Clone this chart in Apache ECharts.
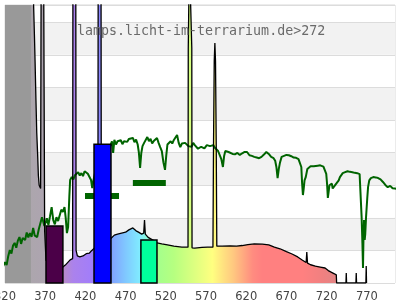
<!DOCTYPE html>
<html>
<head>
<meta charset="utf-8">
<script src="https://cdn.jsdelivr.net/npm/echarts@6/dist/echarts.min.js"></script>
<style>html,body{margin:0;padding:0;background:#fff}#c{width:400px;height:300px}</style>
</head>
<body>
<div id="c"></div>
<script>
// ---- data ----
const titleText = 'lamps.licht-im-terrarium.de>272';
const xTicks = [320, 370, 420, 470, 520, 570, 620, 670, 720, 770];
const uvBand = [320, 352.3];

// lamp spectrum (wavelength nm, relative intensity); values above the top are clipped peaks
const lampSpectrum = [
  [352.3,100],[355,100],[355.6,85],[356.6,76],[357.4,68],[358.5,56],[359.5,46],[360.5,40],[361.5,33],[362.5,30],[364.3,29],
  [365,100],[368,100],[368.6,100],[369.3,16],[371,7],[380,5],[388,4.8],[392,4.9],[395,5.5],[397,6.1],[401,7.1],
  [404.1,7.5],[404.5,100],[408,100],[408.4,10],[410,8.3],[413,8.0],[417,8.3],[421,9.0],[425,9.2],[428,10.0],[431,10.7],
  [435.5,11.5],[435.9,100],[439.4,100],[439.8,12.5],[445,13],[451,13.5],[453,13.8],[456,14.7],[460,15.0],[465,15.3],
  [470,15.6],[474,16.3],[479,16.9],[483,16.0],[486,15.6],[490,15.0],[492.5,15.3],[493.5,19.3],[494.5,15],[498,14],
  [505,13],[509,12.3],[515,12.0],[522,11.7],[530,11.3],[540,11.0],
  [547.6,11.0],[547.9,72],[549.3,100],[550.9,100],[552.3,72],[552.6,10.8],[556,10.7],[565,10.9],[572,11.0],
  [578.6,11.0],[579.3,42],[580.2,68],[581,73.6],[581.8,68],[582.7,42],[583.4,11.3],[590,11.3],[600,11.4],[608,11.3],
  [615,11.5],[622,11.8],[630,12.0],[640,11.9],[648,11.7],[655,11.0],[662,10.5],[670,9.6],[677,8.9],[684,8.0],
  [690,7.0],[694.5,6.3],[695.3,9.5],[696.2,6.1],[700,5.6],[706,5.2],[712,4.9],[718,4.6],[722,3.8],[725,3.4],
  [729,2.9],[732,2.5],[732.4,0],[744,0],[744.4,3.1],[744.8,0],[756.4,0],[756.8,3.1],[757.2,0],[768.8,0],[769.2,5.2],[769.6,0]
];

// reference (daylight) spectrum
const sunSpectrum = [
  [314,3.1],[317,4.8],[320,6.4],[322,5.5],[324,8.2],[326,10.1],[328,9.0],[330,11.5],[332,12.3],[334,10.8],[336,13.0],
  [338,14.1],[340,12.0],[342,13.8],[345,13.2],[347,15.5],[349,14.0],[351,15.3],[353,14.2],[355,16.9],[357,14.5],
  [360,14.1],[362,16.5],[364,16.3],[366,20.2],[367,19.3],[369,17.5],[371,19.0],[372,19.9],[374,17.8],[376,20.5],
  [378,23.3],[380,19.3],[382,18.0],[384,20.2],[386,19.0],[388,18.5],[390,22.5],[391,23.0],[392,21.8],[394,23.3],
  [395.5,20.0],[397,15.3],[398.5,17.2],[400,26.5],[401,31.6],[403,32.5],[405,31.8],[407,33.1],[409,32.6],[411,34.0],
  [413,33.0],[415,33.7],[417,32.8],[419,34.3],[421,34.7],[423,33.5],[425,33.1],[427,31.6],[428.5,29.1],[430,31.5],
  [433,35],[437,38],[441,40],[446,41],[450,41.5],[452,41.7],[453,43.5],[454.5,39.9],[456,43.9],[458,42.5],[460,43.5],
  [462,42.9],[464,43.8],[466,42.6],[468,43.5],[470,43.0],[472,43.3],[474,44.2],[476,43.6],[479,44.5],[481,43.2],
  [483,44.0],[485,42.5],[486.5,40.0],[488,35.3],[489.5,39.9],[491,42.0],[493,43.0],[495,42.5],[497,44.8],[499,43.5],
  [501,44.2],[503,42.8],[505,43.6],[507,44.0],[509,44.5],[511,43.0],[513,41.7],[515,40.5],[517,37.0],[519,34.7],
  [520.5,39.0],[522,42.5],[524,42.0],[526,43.5],[528,42.8],[530,43.9],[532,44.5],[534,45.4],[536,43.0],[538,41.7],
  [540,42.8],[542,42.2],[544,43.0],[546,42.9],[548,42.0],[550,42.6],[552,41.8],[554,43.0],[556,42.3],[558,41.7],
  [560,41.2],[562,40.8],[564,41.8],[566,42.0],[568,41.3],[571,42.3],[573,41.8],[575,42.0],[577,42.6],[579,42.3],
  [581,41.5],[583,41.0],[585,40.5],[587,40.2],[589,38.0],[591,35.6],[592.5,39.0],[594,40.5],[596,40.8],[598,40.2],
  [600,40.5],[603,39.6],[606,39.5],[609,39.9],[612,39.3],[615,39.8],[618,40.2],[621,40.2],[624,39.2],[627,39.0],
  [630,38.7],[633,38.5],[636,38.3],[639,38.7],[642,39.4],[645,40.2],[648,39.6],[651,38.7],[654,38.3],[656,37.5],
  [657.5,35.6],[659,32.2],[660.5,35.0],[662,37.0],[664,38.7],[667,39.0],[670,39.3],[673,39.2],[676,38.9],[679,38.5],
  [682,38.4],[685,38.0],[687,37.5],[688.5,35.6],[689.5,30.5],[690.5,27.0],[691.5,29.0],[692.5,31.5],[694,32.5],
  [696,35.0],[698,35.3],[700,35.8],[702,36.2],[704,35.8],[706,35.6],[709,36.0],[712,36.1],[714,36.2],[716,35.7],
  [718,35.6],[719.5,33.5],[720.5,30.5],[721.5,26.1],[722.5,28.0],[723.5,30.0],[725,29.4],[726.5,30.5],[727.5,29.0],
  [729,29.4],[731,30.2],[733,30.7],[735,31.5],[736.5,32.5],[738,33.1],[740,33.7],[743,34.0],[746,34.3],[749,34.1],
  [752,34.0],[755,33.8],[758,33.7],[761,33.4],[762.5,33.1],[763.5,20.2],[764.5,12],[765.2,4.6],[765.8,14],
  [766.5,19.3],[767.3,13.2],[768,15],[769,20.2],[770.5,26],[771.5,29.4],[773,31.5],[775,32.2],[778,32.5],[781,32.4],
  [784,32.2],[787,31.8],[790,31.0],[793,30.1],[796,29.4],[799,29.8],[802,29.1],[805,29.0],[809,28.8]
];

// coloured blocks: [from nm, to nm] and heights
const blockRanges = [[371, 392], [430.7, 451.8], [489, 509]];
const blockValues = [17.5, 42.6, 13.2];
// dark green markers: [from nm, to nm] and levels
const markerRanges = [[419.5, 461.8], [479, 520]];
const markerValues = [26.7, 30.7];

// ---- styles ----
const blockColors = ['#4b0048', '#0000ff', '#00ff9c'];
const spectrumColorStops = [
  [352,'#aca6ad'],[369,'#ada4b0'],[373,'#b68ac8'],[392,'#b98bc6'],[405,'#ab82ec'],[425,'#a37ef8'],[431,'#9c80ff'],
  [438,'#8a88ff'],[452,'#80a0ff'],[470,'#80c8ff'],[488,'#80ecff'],[500,'#90ffc8'],[510,'#a4ff8c'],[530,'#b6ff80'],
  [555,'#dcff80'],[578,'#ffff80'],[592,'#ffe080'],[604,'#ffc880'],[628,'#ff8c80'],[640,'#ff8080'],[690,'#ff8080'],
  [715,'#f08080'],[732,'#e28585']
];
const yMax = 85.3;

const chart = echarts.init(document.getElementById('c'), null, {renderer: 'canvas'});
const lx0 = lampSpectrum[0][0], lx1 = lampSpectrum[lampSpectrum.length - 1][0];
const fillGradient = new echarts.graphic.LinearGradient(0, 0, 1, 0,
  spectrumColorStops.map(s => ({offset: Math.min(1, Math.max(0, (s[0] - lx0) / (lx1 - lx0))), color: s[1]})));

chart.setOption({
  animation: false,
  backgroundColor: '#fff',
  title: {
    text: titleText, left: 77, top: 25, padding: 0,
    textStyle: {fontFamily: 'DejaVu Sans Mono', fontSize: 13.3, fontWeight: 'normal', color: '#6a6a6a'}
  },
  grid: {left: 5, right: 5, top: 5, bottom: 17, show: true, borderColor: '#d8d8d8', borderWidth: 1,
    containLabel: false, outerBoundsMode: 'none'},
  xAxis: {
    type: 'value', min: 320, max: 805,
    axisLine: {show: false}, axisTick: {show: false}, splitLine: {show: false},
    axisLabel: {customValues: xTicks, color: '#444', fontSize: 11.5, fontFamily: 'DejaVu Sans', margin: 8, hideOverlap: false}
  },
  yAxis: {
    type: 'value', min: 0, max: yMax, interval: 10,
    axisLine: {show: false}, axisTick: {show: false}, axisLabel: {show: false},
    splitLine: {lineStyle: {color: '#dcdcdc', width: 1}},
    splitArea: {show: true, areaStyle: {color: ['#ffffff', '#f2f2f2']}}
  },
  series: [
    {
      type: 'custom', z: 1, silent: true,
      data: [[uvBand[0], uvBand[1]]],
      encode: {x: [0, 1]},
      renderItem: (params, api) => {
        const p0 = api.coord([api.value(0), yMax]);
        const p1 = api.coord([api.value(1), 0]);
        return {type: 'rect', shape: {x: p0[0], y: p0[1], width: p1[0] - p0[0], height: p1[1] - p0[1]}, style: {fill: '#999999'}};
      }
    },
    {
      type: 'line', z: 2, data: lampSpectrum, symbol: 'none', showSymbol: false,
      lineStyle: {width: 0, opacity: 0}, areaStyle: {color: fillGradient, opacity: 1}
    },
    {
      type: 'custom', z: 3, silent: true,
      data: markerRanges.map((r, i) => [r[0], r[1], markerValues[i]]),
      encode: {x: [0, 1], y: 2},
      renderItem: (params, api) => {
        const p0 = api.coord([api.value(0), api.value(2)]);
        const p1 = api.coord([api.value(1), api.value(2)]);
        return {type: 'rect', shape: {x: p0[0], y: p0[1] - 3, width: p1[0] - p0[0], height: 6}, style: {fill: '#006400'}};
      }
    },
    {
      type: 'line', z: 4, data: sunSpectrum, symbol: 'none', showSymbol: false, clip: false,
      lineStyle: {color: '#006400', width: 2}
    },
    {
      type: 'line', z: 5, data: lampSpectrum, symbol: 'none', showSymbol: false,
      lineStyle: {color: '#000', width: 1.3}
    },
    {
      type: 'custom', z: 6, silent: true,
      data: blockRanges.map((r, i) => [r[0], r[1], blockValues[i]]),
      encode: {x: [0, 1], y: 2},
      renderItem: (params, api) => {
        const p0 = api.coord([api.value(0), api.value(2)]);
        const p1 = api.coord([api.value(1), 0]);
        return {type: 'rect', shape: {x: p0[0], y: p0[1], width: p1[0] - p0[0], height: p1[1] - p0[1]},
          style: {fill: blockColors[params.dataIndex], stroke: '#000', lineWidth: 1.5}};
      }
    }
  ]
});
</script>
</body>
</html>
